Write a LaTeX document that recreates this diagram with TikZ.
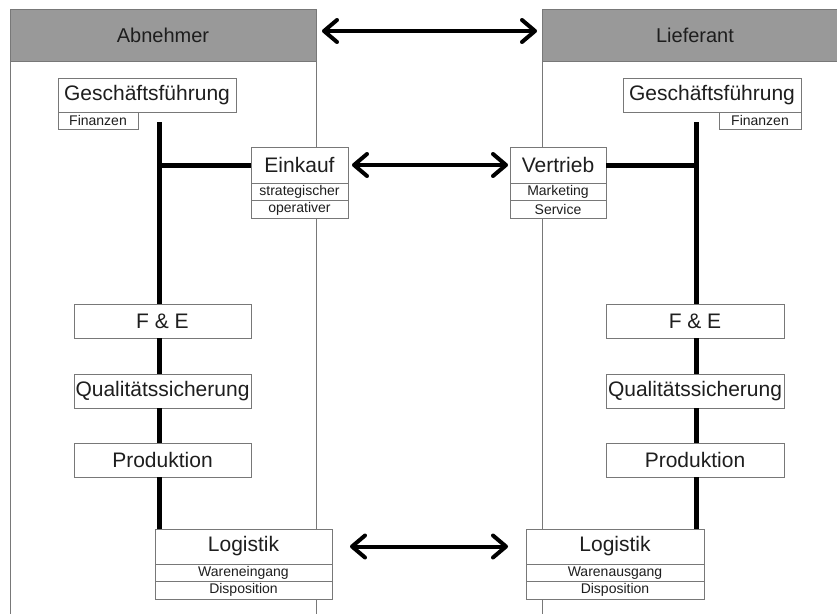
\documentclass[tikz,border=0pt]{standalone}
\usepackage{fontspec}
\setmainfont{Liberation Sans}
\usepackage{tikz}
\usetikzlibrary{arrows.meta,positioning}
\definecolor{headgray}{RGB}{153,153,153}
\definecolor{framegray}{RGB}{120,120,120}
\definecolor{txt}{RGB}{30,30,30}

\begin{document}
\begin{tikzpicture}[x=1pt,y=-1pt,
  box/.style={draw=framegray, fill=white, line width=1pt, inner sep=0pt, outer sep=0pt,
    text=txt, font=\fontsize{21}{21}\selectfont},
  sub/.style={box, font=\fontsize{14}{14}\selectfont, minimum height=17.5pt},
  header/.style={draw=framegray, fill=headgray, line width=1pt, inner sep=0pt, outer sep=0pt,
    minimum width=306pt, minimum height=52pt, text=txt, font=\fontsize{20}{20}\selectfont},
  panel/.style={draw=framegray, line width=1pt},
  bar/.style={line width=5pt, black},
  dblarrow/.style={line width=4pt, black,
    {Straight Barb[length=13pt,width=22pt,round]}-{Straight Barb[length=13pt,width=22pt,round]}}]
\useasboundingbox (0,0) rectangle (837,613);

% Rahmen Abnehmer / Lieferant
\node[header] (abn) at (163,35) {Abnehmer};
\node[header, text width=294pt, align=center] (lief) at (695,35) {Lieferant};
\draw[panel] (abn.south west) -- ++(0,560);
\draw[panel] (abn.south east) -- ++(0,560);
\draw[panel] (lief.south west) -- ++(0,560);

% Abnehmer
\node[box, minimum width=178pt, minimum height=34pt] (gfL) at (147,95) {Geschäftsführung};
\node[sub, minimum width=80pt, anchor=north west] (finL) at (gfL.south west) {Finanzen};
\node[box, minimum width=97pt, minimum height=36pt] (ek) at (299.5,165) {Einkauf};
\node[sub, minimum width=97pt, below=0pt of ek] (ek1) {strategischer};
\node[sub, minimum width=97pt, below=0pt of ek1] (ek2) {operativer};
\node[box, minimum width=177pt, minimum height=34pt] (feL) at (162.5,321) {F \& E};
\node[box, minimum width=177pt, minimum height=34pt, below=36pt of feL] (qsL) {Qualitätssicherung};
\node[box, minimum width=177pt, minimum height=34pt, below=35pt of qsL] (prL) {Produktion};
\node[box, minimum width=177pt, minimum height=35pt] (lgL) at (243.5,546.5) {Logistik};
\node[sub, minimum width=177pt, below=0pt of lgL] (lgL1) {Wareneingang};
\node[sub, minimum width=177pt, below=0pt of lgL1] (lgL2) {Disposition};

% Lieferant
\node[box, minimum width=178pt, minimum height=34pt] (gfR) at (712,95) {Geschäftsführung};
\node[sub, minimum width=82pt, anchor=north east] (finR) at (gfR.south east) {Finanzen};
\node[box, minimum width=96pt, minimum height=36pt] (vk) at (558,165) {Vertrieb};
\node[sub, minimum width=96pt, below=0pt of vk] (vk1) {Marketing};
\node[sub, minimum width=96pt, below=0pt of vk1] (vk2) {Service};
\node[box, minimum width=178pt, minimum height=34pt] (feR) at (695,321) {F \& E};
\node[box, minimum width=178pt, minimum height=34pt, below=36pt of feR] (qsR) {Qualitätssicherung};
\node[box, minimum width=178pt, minimum height=34pt, below=35pt of qsR] (prR) {Produktion};
\node[box, minimum width=178pt, minimum height=35pt] (lgR) at (615,546.5) {Logistik};
\node[sub, minimum width=178pt, below=0pt of lgR] (lgR1) {Warenausgang};
\node[sub, minimum width=178pt, below=0pt of lgR1] (lgR2) {Disposition};

% Linienorganisation
\coordinate (topL) at (159,122);
\coordinate (topR) at (696,122);
\draw[bar] (topL) -- (topL |- feL.north);
\draw[bar] (topL |- feL.south) -- (topL |- qsL.north);
\draw[bar] (topL |- qsL.south) -- (topL |- prL.north);
\draw[bar] (topL |- prL.south) -- (topL |- lgL.north);
\draw[bar] (topL |- ek.west) -- (ek.west);
\draw[bar] (topR) -- (topR |- feR.north);
\draw[bar] (topR |- feR.south) -- (topR |- qsR.north);
\draw[bar] (topR |- qsR.south) -- (topR |- prR.north);
\draw[bar] (topR |- prR.south) -- (topR |- lgR.north);
\draw[bar] (vk.east) -- (topR |- vk.east);

% Beziehungen
\draw[dblarrow, shorten <=6pt, shorten >=5pt] ([yshift=4pt]abn.east) -- ([yshift=4pt]lief.west);
\draw[dblarrow, shorten <=4pt, shorten >=2pt] (ek.east) -- (vk.west);
\draw[dblarrow, shorten <=18pt, shorten >=18pt] (lgL.east) -- (lgR.west);
\end{tikzpicture}
\end{document}
